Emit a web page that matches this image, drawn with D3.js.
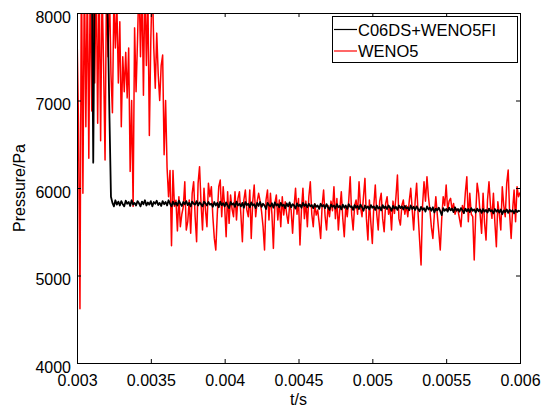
<!DOCTYPE html>
<html>
<head>
<meta charset="utf-8">
<script src="https://cdn.jsdelivr.net/npm/d3@7"></script>
<style>
body { margin: 0; background: #fff; }
svg { display: block; font-family: "Liberation Sans", Arial, Helvetica, sans-serif; }
.line { fill: none; stroke-linejoin: round; }
</style>
</head>
<body>
<svg id="chart"></svg>
<script>
// sampling of both runs
var t0 = 0.003, dt = 0.00001;

// WENO5 pressure, Pa
var redP = [
    7800, 6750, 4620, 8600, 5940, 8500, 6700, 8400, 6340, 8500,
    6880, 8600, 7200, 8500, 6740, 8400, 6540, 8300, 7400, 6320,
    8400, 7500, 8300, 7300, 6860, 8200, 7600, 8100, 7200, 7900,
    6700, 7500, 7100, 7550, 7030, 7600, 6190, 7000, 5790, 7830,
    7100, 7700, 8400, 7500, 8300, 7060, 8400, 7400, 8200, 6600,
    7700, 8400, 7600, 7140, 7770, 7300, 7000, 7400, 7520, 6380,
    7000, 6230, 5900, 6200, 5340, 6200, 5790, 5860, 5510, 5900,
    5558, 5700, 5786, 6072, 5520, 5615, 5863, 5482, 5939, 6072,
    5672, 5386, 6053, 6244, 5824, 5520, 5996, 5748, 5558, 6053,
    5901, 6015, 5672, 5424, 5291, 5700, 6015, 6091, 5672, 6015,
    5786, 5443, 5958, 5596, 5920, 5760, 5672, 5958, 5634, 5882,
    5958, 5691, 5386, 5863, 5977, 5750, 5672, 5977, 5424, 5843,
    6034, 5672, 5843, 5939, 5850, 5729, 5558, 5291, 5863, 5977,
    5634, 5939, 5700, 5310, 5824, 5920, 5634, 5863, 5558, 5901,
    5691, 5843, 5700, 5596, 5805, 5748, 5482, 5786,
    5996, 5700, 5880, 5348, 5750, 5996, 5650, 5850, 5558, 5900,
    6072, 5700, 5558, 5820, 5690, 5748, 5600, 5424, 5800, 5977,
    5680, 5520, 5800, 5672, 5850, 5740, 6015, 5650, 5880, 5520,
    5760, 5958, 5650, 5443, 5790, 5672, 5850, 6129, 5700, 5520,
    5800, 5863, 5700, 6072, 5780, 5672, 5900, 6110, 5650, 5405,
    5863, 5600, 5367, 5800, 6034, 5700, 5520, 5850, 5939, 5650,
    5500, 5820, 5901, 5700, 5780, 5520, 5850, 5710, 5900, 6148,
    5650, 5577, 5800, 5863, 5700, 5800, 5672, 5850,
    5996, 5750, 5520, 5850, 6053, 5700, 5405, 5120, 5800, 6072,
    5850, 6129, 5900, 5748, 5550, 5424, 5700, 5901, 5691, 5500,
    5291, 5650, 5901, 5800, 6034, 5748, 5850, 5882, 5750, 5824,
    5700, 5760, 5748, 5650, 5558, 5800, 5710, 5950, 6129, 5615,
    5939, 5700, 5672, 5177, 5700, 6053, 5939, 5700, 5482, 5939,
    5600, 5405, 5863, 6072, 5800, 5653, 5939, 5600, 5329, 5843,
    5700, 5520, 6015, 5800, 5672, 6053, 6206, 5700, 5424, 5748,
    5977, 5615, 6015, 5900, 5950
];

// C06DS+WENO5FI pressure, Pa
var blackP = [
    8900, 8800, 8900, 8700, 8850, 8900, 8800, 8700, 8600, 8300,
    8500, 6290, 8500, 8700, 8800, 8600, 8900, 8700, 8800, 8600,
    8500, 7770, 6800, 5900,
    5830, 5790, 5860, 5810, 5845, 5800, 5850, 5815, 5790, 5855,
    5820, 5840, 5795, 5860, 5810, 5830, 5800, 5850, 5825, 5790,
    5845, 5815, 5860, 5800, 5835, 5810, 5850, 5790, 5840, 5820,
    5855, 5805, 5830, 5795, 5850, 5815, 5840, 5800, 5860, 5820,
    5790, 5845, 5810, 5835, 5800, 5855, 5820, 5795, 5840, 5815,
    5850, 5805, 5830, 5790, 5845, 5820, 5810, 5850, 5800, 5835,
    5815, 5790, 5845, 5825, 5800, 5840, 5810,
    5820, 5785, 5840, 5800, 5830, 5780, 5845, 5805, 5825, 5790,
    5835, 5800, 5770, 5840, 5810, 5825, 5785, 5845, 5800, 5820,
    5790, 5830, 5775, 5840, 5805, 5820, 5780, 5835, 5800, 5815,
    5770, 5830, 5795, 5840, 5785, 5820, 5800, 5760, 5830, 5805,
    5790, 5825, 5775, 5835, 5800, 5815, 5780, 5830, 5795, 5810,
    5770, 5825, 5790, 5835, 5780, 5815, 5800, 5765, 5825, 5790,
    5810, 5775, 5830, 5795, 5815, 5780, 5820, 5790, 5805, 5770,
    5815, 5785, 5800, 5760, 5820, 5790, 5805, 5770, 5815, 5780,
    5750, 5810, 5785, 5800, 5765, 5815, 5780, 5795, 5755, 5810,
    5775, 5800, 5760, 5815, 5785, 5790, 5750, 5805, 5775, 5795,
    5760, 5810, 5780, 5740, 5800, 5770, 5790, 5755, 5805, 5775,
    5790, 5750, 5800, 5765, 5785, 5745, 5805, 5770, 5790, 5760,
    5800, 5775, 5740, 5795, 5765, 5785, 5750, 5800, 5770, 5790,
    5755, 5795, 5765, 5780, 5745, 5800, 5760, 5785, 5750, 5790,
    5760, 5735, 5785, 5750, 5770, 5730, 5790, 5755, 5775, 5740,
    5780, 5720, 5765, 5745, 5775, 5735, 5690, 5770, 5740, 5760,
    5730, 5775, 5745, 5765, 5725, 5780, 5740, 5760, 5730, 5770,
    5745, 5715, 5765, 5735, 5760, 5725, 5770, 5740, 5755, 5720,
    5765, 5735, 5755, 5715, 5760, 5730, 5750, 5720, 5765, 5735,
    5745, 5710, 5760, 5730, 5750, 5720, 5755, 5700, 5745, 5725,
    5755, 5715, 5750, 5730, 5745, 5710, 5750, 5725, 5740, 5735
];

var seriesNames = ["C06DS+WENO5FI", "WENO5"];
var seriesColors = ["#000000", "#ff0000"];

var xTicks = [0.003, 0.0035, 0.004, 0.0045, 0.005, 0.0055, 0.006];
var xTickLabels = ["0.003", "0.0035", "0.004", "0.0045", "0.005", "0.0055", "0.006"];
var yTicks = [4000, 5000, 6000, 7000, 8000];

var svgW = 542, svgH = 413;
var margin = {top: 13, right: 22, bottom: 50, left: 77};
var width = svgW - margin.left - margin.right,
    height = svgH - margin.top - margin.bottom;

var xScale = d3.scaleLinear()
    .domain([0.003, 0.006])
    .range([0, width]);

var yScale = d3.scaleLinear()
    .domain([4000, 8000])
    .range([height, 0]);

var svg = d3.select("#chart")
    .attr("width", svgW)
    .attr("height", svgH);

svg.append("rect")
    .attr("width", svgW)
    .attr("height", svgH)
    .attr("fill", "#fff");

var g = svg.append("g")
    .attr("transform", "translate(" + margin.left + "," + margin.top + ")");

g.append("clipPath")
    .attr("id", "plot-clip")
    .append("rect")
    .attr("width", width)
    .attr("height", height);

var line = d3.line()
    .x(function(d, i) { return xScale(t0 + i * dt); })
    .y(function(d) { return yScale(d); });

var plot = g.append("g").attr("clip-path", "url(#plot-clip)");

plot.append("path")
    .data([redP])
    .attr("class", "line")
    .attr("d", line)
    .attr("stroke", seriesColors[1])
    .attr("stroke-width", 1.5);

plot.append("path")
    .data([blackP])
    .attr("class", "line")
    .attr("d", line)
    .attr("stroke", seriesColors[0])
    .attr("stroke-width", 1.8);

// axes, ticks pointing inwards on all four sides
var xAxis = d3.axisBottom(xScale)
    .tickValues(xTicks)
    .tickFormat(function(d, i) { return xTickLabels[i]; })
    .tickSizeInner(-4)
    .tickSizeOuter(0)
    .tickPadding(11.5);

var yAxis = d3.axisLeft(yScale)
    .tickValues(yTicks)
    .tickFormat(d3.format("d"))
    .tickSizeInner(-4)
    .tickSizeOuter(0)
    .tickPadding(6);

var gx = g.append("g")
    .attr("transform", "translate(0," + height + ")")
    .call(xAxis);

var gy = g.append("g")
    .call(yAxis);

g.append("g")
    .call(d3.axisTop(xScale).tickValues(xTicks).tickFormat("").tickSizeInner(-4).tickSizeOuter(0));

g.append("g")
    .attr("transform", "translate(" + width + ",0)")
    .call(d3.axisRight(yScale).tickValues(yTicks).tickFormat("").tickSizeInner(-4).tickSizeOuter(0));

g.selectAll(".domain").remove();
g.selectAll(".tick line").attr("stroke", "#000");

gx.selectAll("text")
    .attr("font-size", 16)
    .attr("font-family", "Liberation Sans, Arial, sans-serif")
    .attr("fill", "#000");

gy.selectAll("text")
    .attr("font-size", 16)
    .attr("font-family", "Liberation Sans, Arial, sans-serif")
    .attr("fill", "#000")
    .attr("dy", "0.58em");

g.append("rect")
    .attr("x", 0)
    .attr("y", 0)
    .attr("width", width)
    .attr("height", height)
    .attr("fill", "none")
    .attr("stroke", "#000")
    .attr("stroke-width", 1)
    .attr("shape-rendering", "crispEdges");

g.append("text")
    .attr("x", width / 2)
    .attr("y", height + 42)
    .attr("text-anchor", "middle")
    .attr("font-size", 16)
    .text("t/s");

g.append("text")
    .attr("transform", "rotate(-90)")
    .attr("x", -height / 2)
    .attr("y", -52)
    .attr("text-anchor", "middle")
    .attr("font-size", 16)
    .text("Pressure/Pa");

// legend box in the upper right corner
var legend = g.append("g")
    .attr("transform", "translate(" + (width - 188) + ",3)");

legend.append("rect")
    .attr("width", 185)
    .attr("height", 46)
    .attr("fill", "#fff")
    .attr("stroke", "#000")
    .attr("stroke-width", 1)
    .attr("shape-rendering", "crispEdges");

seriesNames.forEach(function(name, i) {
    var yy = 13.5 + i * 21.5;
    legend.append("line")
        .attr("x1", 2)
        .attr("x2", 25)
        .attr("y1", yy)
        .attr("y2", yy)
        .attr("stroke", seriesColors[i])
        .attr("stroke-width", 1.2);
    legend.append("text")
        .attr("x", 26)
        .attr("y", yy + 6)
        .attr("font-size", 16.5)
        .text(name);
});
</script>
</body>
</html>
